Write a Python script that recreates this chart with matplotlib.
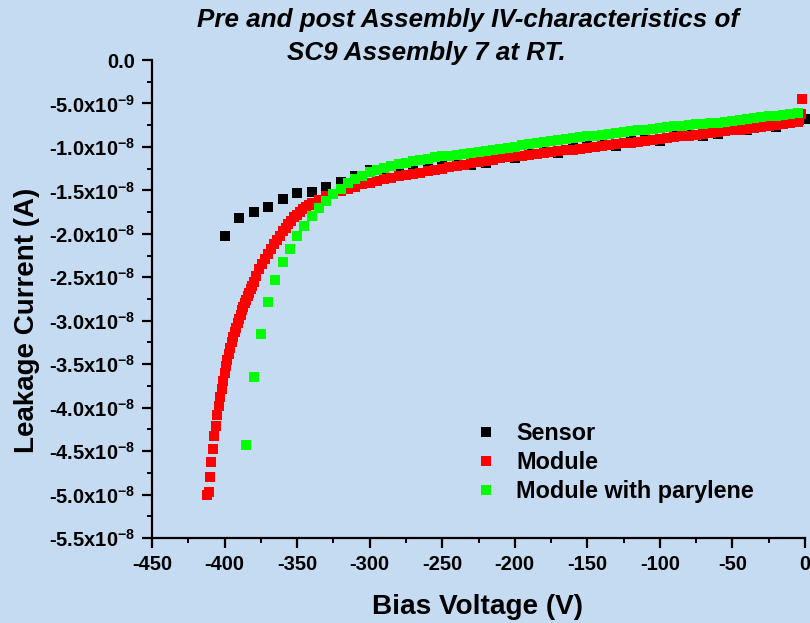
import matplotlib
matplotlib.use("Agg")
import matplotlib.pyplot as plt
import numpy as np

plt.rcParams['font.family'] = ['Liberation Sans', 'DejaVu Sans']
plt.rcParams['font.weight'] = 'bold'
plt.rcParams['mathtext.fontset'] = 'custom'
plt.rcParams['mathtext.rm'] = 'Liberation Sans:bold'
plt.rcParams['mathtext.it'] = 'Liberation Sans:bold:italic'
plt.rcParams['mathtext.bf'] = 'Liberation Sans:bold'
plt.rcParams['mathtext.default'] = 'rm'

# ---------------- data (currents in units of 1e-8 A, negative) ----------------
sensor_v = [-400, -390, -380, -370, -360, -350, -340, -330, -320, -310, -300,
            -290, -280, -270, -260, -250, -240, -230, -220, -210, -200,
            -190, -180, -170, -160, -150, -140, -130, -120, -110, -100,
            -90, -80, -70, -60, -50, -40, -30, -20, -10, 0]
sensor_i = [-2.03, -1.82, -1.745, -1.695, -1.60, -1.53, -1.515, -1.465, -1.40, -1.34, -1.26,
            -1.30, -1.27, -1.24, -1.21, -1.18, -1.15, -1.21, -1.18, -1.07, -1.13,
            -1.03, -1.00, -1.07, -0.96, -0.94, -0.92, -0.99, -0.88, -0.86, -0.93,
            -0.83, -0.81, -0.87, -0.85, -0.755, -0.81, -0.715, -0.77, -0.675, -0.68]

module_v = [-412, -411, -410, -409, -408, -407, -406, -405, -404, -403, -402, -401,
            -400, -399, -398, -397, -396, -395, -394, -393, -392, -391, -390,
            -389, -388, -387, -386, -385, -384, -383, -382, -381, -380,
            -378, -376, -374, -372, -370, -368, -366, -364, -362, -360,
            -358, -356, -354, -352, -350, -348, -346, -344, -342, -340,
            -335, -330, -325, -320, -315, -310, -305, -300, -295, -290,
            -285, -280, -275, -270, -265, -260, -255, -250, -245, -240,
            -235, -230, -225, -220, -215, -210, -205, -200, -195, -190,
            -185, -180, -175, -170, -165, -160, -155, -150, -145, -140,
            -135, -130, -125, -120, -115, -110, -105, -100, -95, -90,
            -85, -80, -75, -70, -65, -60, -55, -50, -45, -40,
            -35, -30, -25, -20, -15, -10, -5, -4, -3, -2]
module_i = [-5.00, -4.97, -4.80, -4.63, -4.48, -4.33, -4.21, -4.09, -3.98, -3.88, -3.78, -3.69,
            -3.60, -3.52, -3.45, -3.38, -3.31, -3.25, -3.19, -3.13, -3.08, -3.03, -2.98,
            -2.93, -2.88, -2.84, -2.80, -2.76, -2.72, -2.68, -2.64, -2.60, -2.55,
            -2.48, -2.41, -2.35, -2.29, -2.23, -2.17, -2.12, -2.07, -2.02, -1.97,
            -1.93, -1.89, -1.85, -1.81, -1.78, -1.75, -1.72, -1.69, -1.67, -1.65,
            -1.61, -1.57, -1.54, -1.51, -1.48, -1.46, -1.43, -1.41, -1.39, -1.37,
            -1.355, -1.34, -1.325, -1.31, -1.295, -1.28, -1.265, -1.25, -1.235, -1.22,
            -1.205, -1.19, -1.175, -1.16, -1.145, -1.13, -1.12, -1.11, -1.10, -1.09,
            -1.08, -1.07, -1.06, -1.05, -1.04, -1.03, -1.02, -1.01, -1.00, -0.99,
            -0.98, -0.97, -0.96, -0.95, -0.94, -0.93, -0.92, -0.91, -0.90, -0.89,
            -0.88, -0.87, -0.86, -0.85, -0.84, -0.83, -0.82, -0.81, -0.80, -0.79,
            -0.78, -0.77, -0.76, -0.75, -0.74, -0.73, -0.71, -0.69, -0.62, -0.45]

parylene_v = [-385, -380, -375, -370, -365, -360, -355, -350, -345, -340,
              -335, -330, -325, -320, -315, -310, -305, -300, -295, -290,
              -285, -280, -275, -270, -265, -260, -255, -250, -245, -240,
              -235, -230, -225, -220, -215, -210, -205, -200, -195, -190,
              -185, -180, -175, -170, -165, -160, -155, -150, -145, -140,
              -135, -130, -125, -120, -115, -110, -105, -100, -95, -90,
              -85, -80, -75, -70, -65, -60, -55, -50, -45, -40,
              -35, -30, -25, -20, -15, -10, -5]
parylene_i = [-4.43, -3.65, -3.15, -2.79, -2.53, -2.33, -2.17, -2.03, -1.91, -1.79,
              -1.70, -1.62, -1.54, -1.48, -1.42, -1.37, -1.33, -1.29, -1.26, -1.24,
              -1.22, -1.20, -1.18, -1.16, -1.15, -1.14, -1.12, -1.11, -1.10, -1.09,
              -1.08, -1.07, -1.06, -1.05, -1.04, -1.02, -1.01, -1.00, -0.98, -0.97,
              -0.95, -0.94, -0.93, -0.92, -0.91, -0.90, -0.89, -0.88, -0.87, -0.86,
              -0.85, -0.84, -0.83, -0.82, -0.81, -0.80, -0.79, -0.78, -0.77, -0.765,
              -0.755, -0.75, -0.74, -0.735, -0.725, -0.72, -0.71, -0.70, -0.69, -0.68,
              -0.67, -0.66, -0.65, -0.64, -0.63, -0.62, -0.61]

series_names = ['Sensor', 'Module', 'Module with parylene']
series_colors = ['#000000', '#FF0000', '#00FF00']

x_ticks = [-450, -400, -350, -300, -250, -200, -150, -100, -50, 0]
x_ticklabels = ['-450', '-400', '-350', '-300', '-250', '-200', '-150', '-100', '-50', '0']
y_ticks = [0, -0.5e-8, -1.0e-8, -1.5e-8, -2.0e-8, -2.5e-8, -3.0e-8, -3.5e-8,
           -4.0e-8, -4.5e-8, -5.0e-8, -5.5e-8]
y_ticklabels = ['0.0', '-5.0x10$^{-9}$', '-1.0x10$^{-8}$', '-1.5x10$^{-8}$', '-2.0x10$^{-8}$',
                '-2.5x10$^{-8}$', '-3.0x10$^{-8}$', '-3.5x10$^{-8}$', '-4.0x10$^{-8}$',
                '-4.5x10$^{-8}$', '-5.0x10$^{-8}$', '-5.5x10$^{-8}$']

bg = '#C5DBF1'
W, H = 810, 623
fig = plt.figure(figsize=(W / 100, H / 100), dpi=100, facecolor=bg)
ax = fig.add_axes([152 / W, 1 - 538 / H, (805 - 152) / W, (538 - 60) / H], facecolor=bg)

datasets = [(sensor_v, sensor_i), (module_v, module_i), (parylene_v, parylene_i)]
for (v, i), name, c in zip(datasets, series_names, series_colors):
    ax.plot(v, np.array(i) * 1e-8, linestyle='none', marker='s', markersize=7.8,
            markeredgewidth=0, color=c, label=name, clip_on=False)

ax.set_xlim(-450, 0)
ax.set_ylim(-5.5e-8, 0)
ax.set_xticks(x_ticks)
ax.set_xticklabels(x_ticklabels)
ax.set_yticks(y_ticks)
ax.set_yticklabels(y_ticklabels)
ax.set_xticks(np.arange(-425, 0, 50), minor=True)
ax.set_yticks(np.arange(-5.25e-8, 0, 0.5e-8), minor=True)

for s in ['top', 'right']:
    ax.spines[s].set_visible(False)
for s in ['left', 'bottom']:
    ax.spines[s].set_linewidth(1.6)
ax.tick_params(which='major', direction='out', length=7, width=1.6, labelsize=14.5, pad=5)
ax.tick_params(which='minor', direction='out', length=3.8, width=1.4)
for lab in ax.get_xticklabels() + ax.get_yticklabels():
    lab.set_fontweight('bold')

ax.set_xlabel('Bias Voltage (V)', fontsize=20.2, fontweight='bold')
ax.xaxis.set_label_coords(0.499, -0.118)
ax.set_ylabel('Leakage Current (A)', fontsize=20, fontweight='bold')
ax.yaxis.set_label_coords(-0.171, 0.456)

fig.text(197 / W, 1 - 27 / H, 'Pre and post Assembly IV-characteristics of',
         fontsize=18.7, fontweight='bold', fontstyle='italic', va='baseline', ha='left')
fig.text(287 / W, 1 - 60 / H, 'SC9 Assembly 7 at RT.',
         fontsize=18.7, fontweight='bold', fontstyle='italic', va='baseline', ha='left')

leg = ax.legend(loc='upper left', bbox_to_anchor=((465 - 152) / 653, (538 - 413) / 478),
                frameon=False, fontsize=16.8, handlelength=1.0, handletextpad=0.8,
                labelspacing=0.25, borderaxespad=0, markerscale=1.0)
for t in leg.get_texts():
    t.set_fontweight('bold')

fig.savefig('out.png', dpi=100, facecolor=bg)
